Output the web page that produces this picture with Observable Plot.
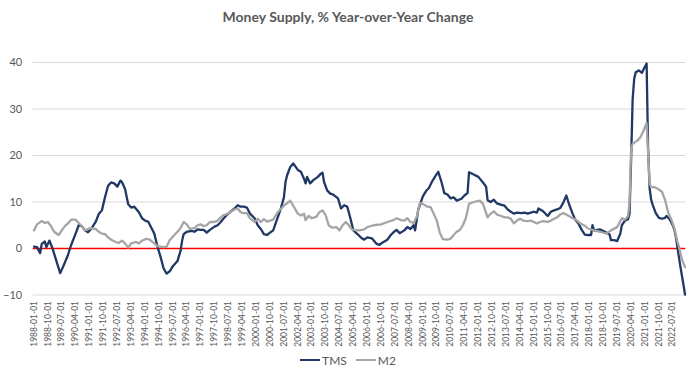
<!DOCTYPE html>
<html>
<head>
<meta charset="utf-8">
<script src="https://cdn.jsdelivr.net/npm/d3@7"></script>
<script src="https://cdn.jsdelivr.net/npm/@observablehq/plot@0.6"></script>
<style>
  html, body { margin: 0; padding: 0; background: #fff; }
  body { width: 696px; height: 375px; overflow: hidden; font-family: Lato, "Open Sans", sans-serif; }
  #title { height: 40px; line-height: 34px; text-align: center; font-size: 14px; font-weight: bold; color: #595959; }
  #chart { height: 310px; }
  #legend { height: 20px; display: flex; justify-content: center; align-items: center; gap: 9px; font-size: 12px; color: #595959; }
  .item { display: flex; align-items: center; gap: 2px; }
  .sw { width: 20px; height: 0; border-top: 2.5px solid; }
  svg { overflow: visible; }
</style>
</head>
<body>
<div id="title">Money Supply, % Year-over-Year Change</div>
<div id="chart"></div>
<div id="legend"></div>
<script>
const seriesNames = ["TMS", "M2"];
const seriesColors = ["#1f3864", "#a5a5a5"];

const tms = [
["1988-01",0.4],["1988-03",0.3],["1988-05",-1.0],["1988-06",1.0],["1988-08",1.5],["1988-09",0.3],["1988-11",1.7],
["1989-01",0.0],["1989-04",-3.2],["1989-06",-5.3],["1989-08",-3.8],["1989-11",-1.4],
["1990-01",0.7],["1990-04",3.2],["1990-06",5.0],["1990-08",4.8],["1990-10",3.9],["1990-12",3.5],
["1991-02",4.2],["1991-05",5.7],["1991-07",7.4],["1991-09",8.2],["1991-11",11.0],
["1992-01",13.5],["1992-03",14.2],["1992-05",14.0],["1992-07",13.3],["1992-09",14.6],["1992-10",14.3],["1992-12",12.8],
["1993-02",9.5],["1993-04",8.8],["1993-06",9.0],["1993-09",7.8],["1993-11",6.5],
["1994-01",6.0],["1994-03",5.8],["1994-05",4.5],["1994-07",3.2],["1994-09",0.4],["1994-11",-1.8],
["1995-01",-4.3],["1995-03",-5.4],["1995-05",-4.9],["1995-07",-3.8],["1995-10",-2.7],["1995-12",-0.5],
["1996-01",1.7],["1996-02",3.1],["1996-04",3.6],["1996-07",3.8],["1996-09",3.6],["1996-11",4.1],
["1997-01",4.0],["1997-03",4.0],["1997-05",3.4],["1997-07",4.0],["1997-10",4.7],["1997-12",5.0],
["1998-02",5.7],["1998-04",6.5],["1998-06",7.2],["1998-08",7.8],["1998-11",8.6],
["1999-01",9.3],["1999-03",9.0],["1999-05",9.0],["1999-07",8.8],["1999-09",7.5],["1999-12",6.5],
["2000-02",5.0],["2000-04",4.2],["2000-06",3.1],["2000-08",2.9],["2000-10",3.4],["2000-12",3.9],
["2001-03",6.7],["2001-05",8.6],["2001-07",11.0],["2001-08",14.3],["2001-09",15.7],["2001-11",17.5],
["2002-01",18.3],["2002-04",16.9],["2002-06",16.5],["2002-08",15.0],["2002-09",14.0],["2002-10",15.4],["2002-12",14.0],
["2003-02",14.7],["2003-05",15.4],["2003-07",16.1],["2003-08",16.3],["2003-09",14.3],["2003-11",12.5],
["2004-01",11.8],["2004-03",11.6],["2004-06",10.8],["2004-08",8.6],["2004-10",9.3],["2004-12",9.0],
["2005-02",6.5],["2005-04",3.9],["2005-07",3.0],["2005-09",2.3],["2005-11",1.9],
["2006-01",2.4],["2006-04",2.2],["2006-07",1.0],["2006-09",0.8],["2006-11",1.3],
["2007-02",1.9],["2007-04",2.8],["2007-06",3.5],["2007-08",4.0],["2007-10",3.3],
["2008-01",3.9],["2008-03",4.6],["2008-05",4.2],["2008-07",5.0],["2008-08",3.9],["2008-10",8.3],
["2009-01",11.2],["2009-03",12.3],["2009-05",13.0],["2009-07",14.4],["2009-09",15.5],["2009-11",16.5],
["2010-01",14.4],["2010-03",11.9],["2010-05",11.6],["2010-07",10.8],["2010-09",11.0],["2010-11",10.3],
["2011-02",10.7],["2011-04",11.4],["2011-06",11.9],["2011-07",16.4],["2011-10",15.9],
["2012-01",15.4],["2012-04",14.2],["2012-06",13.3],["2012-07",10.4],["2012-09",10.0],["2012-11",10.5],
["2013-01",9.7],["2013-04",9.4],["2013-06",9.2],["2013-08",8.4],["2013-10",7.9],["2013-12",7.5],
["2014-02",7.7],["2014-05",7.6],["2014-07",7.7],["2014-09",7.5],["2014-11",7.7],
["2015-01",7.9],["2015-03",7.7],["2015-04",8.6],["2015-07",8.0],["2015-09",7.3],["2015-10",7.0],["2015-12",7.9],
["2016-02",8.2],["2016-04",8.4],["2016-06",8.7],["2016-08",9.8],["2016-10",11.4],["2016-12",9.3],
["2017-02",7.5],["2017-04",6.1],["2017-06",5.3],["2017-08",4.0],["2017-10",3.0],["2017-12",2.9],
["2018-02",2.9],["2018-03",5.0],["2018-04",3.9],["2018-08",4.1],["2018-11",3.6],
["2019-02",3.0],["2019-03",1.8],["2019-05",1.8],["2019-07",1.6],["2019-09",3.2],["2019-10",5.0],["2019-12",6.0],
["2020-02",6.3],["2020-03",7.5],["2020-04",19.0],["2020-05",32.0],["2020-06",36.5],["2020-07",37.9],["2020-09",38.3],["2020-11",37.8],["2020-12",38.5],
["2021-02",39.8],["2021-03",22.0],["2021-04",13.0],["2021-05",10.5],["2021-06",9.4],["2021-08",7.6],["2021-10",6.6],["2021-12",6.4],
["2022-02",6.6],["2022-03",7.0],["2022-05",6.3],["2022-07",5.0],["2022-08",4.1],["2022-09",2.5],["2022-10",0.3],["2022-12",-4.0],
["2023-02",-8.0],["2023-03",-9.9]
];

const m2 = [
["1988-01",3.9],["1988-03",5.2],["1988-06",5.9],["1988-08",5.5],["1988-10",5.7],["1988-12",4.8],
["1989-02",3.6],["1989-05",2.9],["1989-07",3.9],["1989-09",4.8],["1989-11",5.4],
["1990-01",6.2],["1990-04",6.2],["1990-06",5.5],["1990-08",4.8],["1990-10",3.9],["1990-12",4.2],
["1991-02",4.4],["1991-05",4.2],["1991-07",3.6],["1991-09",3.2],["1991-11",3.1],
["1992-01",2.4],["1992-03",1.9],["1992-06",1.4],["1992-08",1.2],["1992-10",1.7],["1992-12",1.1],
["1993-02",0.2],["1993-04",1.1],["1993-07",1.4],["1993-09",1.1],["1993-11",1.7],
["1994-02",2.1],["1994-04",1.9],["1994-07",1.1],["1994-09",0.5],["1994-11",0.4],
["1995-01",0.3],["1995-03",0.4],["1995-05",1.8],["1995-08",2.9],["1995-10",3.6],["1995-12",4.4],
["1996-02",5.7],["1996-04",5.2],["1996-06",4.2],["1996-09",4.4],["1996-11",5.0],
["1997-01",5.2],["1997-03",4.8],["1997-05",5.0],["1997-07",5.7],["1997-10",5.7],["1997-12",6.0],
["1998-02",6.7],["1998-04",7.2],["1998-06",7.4],["1998-08",7.8],["1998-11",8.4],
["1999-01",8.6],["1999-03",7.8],["1999-05",7.6],["1999-07",7.6],["1999-09",6.5],["1999-12",5.7],
["2000-02",6.4],["2000-04",5.7],["2000-06",6.3],["2000-08",5.8],["2000-10",6.0],["2000-12",6.2],
["2001-03",7.8],["2001-07",9.2],["2001-10",10.0],["2001-11",10.3],
["2002-01",9.2],["2002-04",7.5],["2002-06",7.1],["2002-08",7.5],["2002-09",6.1],["2002-11",7.0],
["2003-01",6.5],["2003-04",6.8],["2003-06",7.8],["2003-08",8.2],["2003-10",7.2],["2003-12",5.0],
["2004-02",4.5],["2004-05",4.6],["2004-07",3.9],["2004-09",5.0],["2004-11",5.7],
["2005-01",5.0],["2005-03",4.1],["2005-06",3.9],["2005-08",3.9],["2005-11",4.1],
["2006-01",4.6],["2006-05",5.0],["2006-10",5.2],
["2007-02",5.7],["2007-06",6.1],["2007-08",6.5],["2007-11",6.1],
["2008-01",6.0],["2008-03",6.5],["2008-05",5.7],["2008-07",5.5],["2008-09",6.8],["2008-11",9.8],
["2009-01",9.6],["2009-04",9.0],["2009-06",8.9],["2009-08",7.5],["2009-10",6.1],["2009-12",3.4],
["2010-02",2.0],["2010-05",1.9],["2010-07",2.1],["2010-09",2.9],["2010-11",3.6],
["2011-01",4.0],["2011-03",5.0],["2011-05",6.6],["2011-07",9.6],["2011-10",10.0],
["2012-02",10.3],["2012-04",9.6],["2012-07",6.7],["2012-09",7.5],["2012-11",8.0],
["2013-01",7.3],["2013-03",7.1],["2013-06",6.7],["2013-08",6.7],["2013-10",6.4],["2013-12",5.4],
["2014-02",6.0],["2014-04",6.4],["2014-06",6.0],["2014-09",5.9],["2014-11",6.0],
["2015-01",5.7],["2015-03",5.4],["2015-05",5.7],["2015-07",5.9],["2015-10",5.7],["2015-12",6.0],
["2016-02",6.4],["2016-04",6.7],["2016-06",7.3],["2016-08",7.6],["2016-10",7.3],
["2017-01",6.7],["2017-03",6.4],["2017-05",6.0],["2017-07",5.4],["2017-10",4.9],["2017-12",4.3],
["2018-04",3.9],["2018-08",3.6],["2018-12",3.2],
["2019-03",3.9],["2019-07",4.6],["2019-10",6.5],["2019-12",6.2],
["2020-02",7.0],["2020-03",10.0],["2020-04",21.5],["2020-05",22.5],["2020-08",23.2],["2020-10",23.9],["2020-12",25.3],
["2021-02",27.0],["2021-03",21.0],["2021-04",14.0],["2021-05",13.2],["2021-07",13.2],["2021-09",12.9],["2021-12",12.2],
["2022-02",10.4],["2022-04",7.8],["2022-06",6.3],["2022-08",4.4],["2022-10",1.5],["2022-11",0.4],
["2023-01",-2.4],["2023-03",-4.0]
];

const xTickLabels = ["1988-01-01","1988-10-01","1989-07-01","1990-04-01","1991-01-01","1991-10-01","1992-07-01","1993-04-01","1994-01-01","1994-10-01","1995-07-01","1996-04-01","1997-01-01","1997-10-01","1998-07-01","1999-04-01","2000-01-01","2000-10-01","2001-07-01","2002-04-01","2003-01-01","2003-10-01","2004-07-01","2005-04-01","2006-01-01","2006-10-01","2007-07-01","2008-04-01","2009-01-01","2009-10-01","2010-07-01","2011-04-01","2012-01-01","2012-10-01","2013-07-01","2014-04-01","2015-01-01","2015-10-01","2016-07-01","2017-04-01","2018-01-01","2018-10-01","2019-07-01","2020-04-01","2021-01-01","2021-10-01","2022-07-01"];
const yTicks = [-10, 0, 10, 20, 30, 40];

const parseM = d3.utcParse("%Y-%m");
const parseD = d3.utcParse("%Y-%m-%d");
const xDomain = [parseD("1987-12-16"), parseD("2023-03-16")];

const rows = (arr, name) => arr.map(([d, v]) => ({date: parseM(d), value: v, series: name}));
const data = [...rows(tms, "TMS"), ...rows(m2, "M2")];

const chart = Plot.plot({
  width: 696,
  height: 310,
  marginTop: 22,
  marginBottom: 55.5,
  marginLeft: 32.7,
  marginRight: 10.7,
  style: {fontFamily: "Lato, 'Open Sans', sans-serif", color: "#595959", background: "#fff", overflow: "visible"},
  x: {type: "utc", domain: xDomain, label: null},
  y: {domain: [-10, 40], label: null},
  color: {domain: seriesNames, range: seriesColors},
  marks: [
    Plot.ruleY(yTicks.filter(t => t !== 0), {stroke: "#d9d9d9", strokeWidth: 1}),
    Plot.ruleY([0], {stroke: "#ff0000", strokeWidth: 1.5}),
    Plot.line(data, {x: "date", y: "value", z: "series", stroke: "series", strokeWidth: 2.3, strokeLinejoin: "round"}),
    Plot.axisX({ticks: xTickLabels.map(parseD), tickFormat: d3.utcFormat("%Y-%m-%d"), tickRotate: -90, tickSize: 0, tickPadding: 6, fontSize: 8.5, fill: "#595959"}),
    Plot.axisY({ticks: yTicks, tickSize: 0, tickPadding: 11, fontSize: 11, fill: "#595959"})
  ]
});
document.getElementById("chart").appendChild(chart);

const legend = document.getElementById("legend");
seriesNames.forEach((name, i) => {
  const item = document.createElement("div");
  item.className = "item";
  const sw = document.createElement("span");
  sw.className = "sw";
  sw.style.borderColor = seriesColors[i];
  const label = document.createElement("span");
  label.textContent = name;
  item.appendChild(sw);
  item.appendChild(label);
  legend.appendChild(item);
});
</script>
</body>
</html>
